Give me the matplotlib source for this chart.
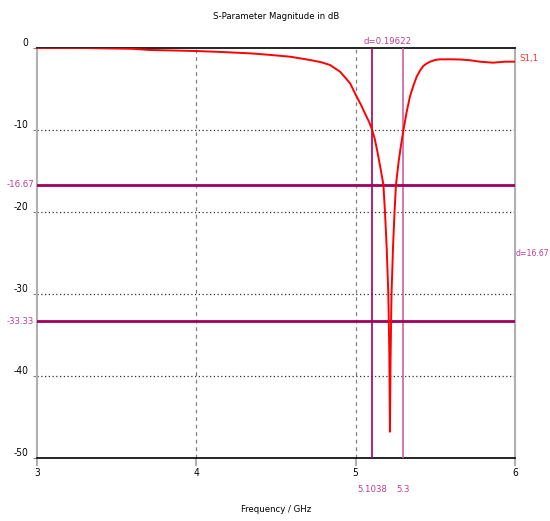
import matplotlib
matplotlib.use("Agg")
import matplotlib.pyplot as plt
import matplotlib.transforms as mtransforms

plt.rcParams['font.family'] = ['DejaVu Sans']
plt.rcParams['font.stretch'] = 'condensed'

# S1,1 magnitude read along the sweep (GHz, dB)
freq_ghz = [3.0, 3.3, 3.6, 3.709, 3.85, 4.0, 4.15, 4.337, 4.45, 4.588, 4.713, 4.78,
            4.839, 4.902, 4.965, 5.0, 5.03, 5.059, 5.085, 5.1038, 5.12, 5.136, 5.157,
            5.174, 5.184, 5.195, 5.205, 5.211, 5.215, 5.219, 5.225, 5.235, 5.244, 5.253,
            5.27, 5.285, 5.3, 5.32, 5.341, 5.362, 5.383, 5.404, 5.424, 5.445, 5.467,
            5.5, 5.529, 5.6, 5.655, 5.72, 5.78, 5.862, 5.937, 6.0]
s11_db = [0.0, 0.0, -0.1, -0.24, -0.3, -0.37, -0.48, -0.65, -0.82, -1.06, -1.46, -1.72,
          -2.07, -2.89, -4.3, -5.7, -6.8, -8.0, -9.05, -10.0, -11.1, -12.6, -14.8,
          -16.67, -20.0, -24.5, -30.0, -37.0, -46.8, -38.0, -30.0, -24.0, -20.0, -16.67,
          -13.8, -11.8, -10.0, -7.8, -5.9, -4.6, -3.5, -2.75, -2.2, -1.9, -1.67,
          -1.45, -1.38, -1.38, -1.4, -1.5, -1.67, -1.79, -1.67, -1.67]

# markers
marker_x = [5.1038, 5.3]
marker_x_labels = ['5.1038', '5.3']
marker_y = [-16.67, -33.33]
marker_y_labels = ['-16.67', '-33.33']
dx_label = 'd=0.19622'
dy_label = 'd=16.67'

x_ticks = [3, 4, 5, 6]
y_ticks = [0, -10, -20, -30, -40, -50]

mag = '#a0005e'
mag_light = '#c860a8'
mag_text = '#c03c94'
fs = 6.8

fig = plt.figure(figsize=(5.5, 5.21), dpi=100)
ax = fig.add_axes([37/550, 1-458/521, 478/550, 410/521])
ax.set_xlim(3, 6)
ax.set_ylim(-50, 0)

# grid
for x in x_ticks[1:-1]:
    ax.axvline(x, color='#808080', lw=0.9, ls=(0, (3, 3)), zorder=1)
for y in y_ticks[1:-1]:
    ax.axhline(y, color='#303030', lw=0.9, ls=(0, (1, 2)), zorder=1)

ax.plot(freq_ghz, s11_db, color='#ff0000', lw=1.4, zorder=4)

# marker lines
ax.axvline(marker_x[0], color=mag, lw=1.2, zorder=3)
ax.axvline(marker_x[1], color=mag_light, lw=1.2, zorder=3)
for y in marker_y:
    ax.axhline(y, color=mag, lw=2.0, zorder=3)

for s in ['left', 'right']:
    ax.spines[s].set_color('#b0b0b0')
    ax.spines[s].set_linewidth(1.5)
for s in ['top', 'bottom']:
    ax.spines[s].set_color('black')
    ax.spines[s].set_linewidth(1.2)

ax.set_xticks(x_ticks)
ax.set_xticklabels([str(t) for t in x_ticks], fontsize=fs + 0.5)
ax.tick_params(axis='x', direction='out', length=6, width=1.5, color='#b0b0b0', pad=1)
ax.set_yticks(y_ticks)
ax.set_yticklabels([str(t) for t in y_ticks], fontsize=fs + 0.5, va='bottom')
ax.tick_params(axis='y', direction='out', length=3, width=0.8, color='#808080', pad=3)

trans_y = mtransforms.blended_transform_factory(ax.transAxes, ax.transData)
trans_x = mtransforms.blended_transform_factory(ax.transData, ax.transAxes)
for y, lab in zip(marker_y, marker_y_labels):
    ax.text(-0.006, y, lab, transform=trans_y, ha='right', va='center',
            color=mag_text, fontsize=fs)
for x, lab in zip(marker_x, marker_x_labels):
    ax.text(x, -0.078, lab, transform=trans_x, ha='center', va='center',
            color=mag_text, fontsize=fs)
ax.text(sum(marker_x)/2, 1.005, dx_label, transform=trans_x, ha='center', va='bottom',
        color=mag_text, fontsize=fs)
ax.text(1.002, sum(marker_y)/2, dy_label, transform=trans_y, ha='left', va='center',
        color=mag_text, fontsize=6.2)
ax.text(1.01, s11_db[-1] + 0.4, 'S1,1', transform=trans_y, ha='left', va='center',
        color='#ff3030', fontsize=fs)

ax.set_title('S-Parameter Magnitude in dB', fontsize=fs, pad=21)
ax.set_xlabel('Frequency / GHz', fontsize=fs, labelpad=20)

fig.savefig('out.png', dpi=100)
